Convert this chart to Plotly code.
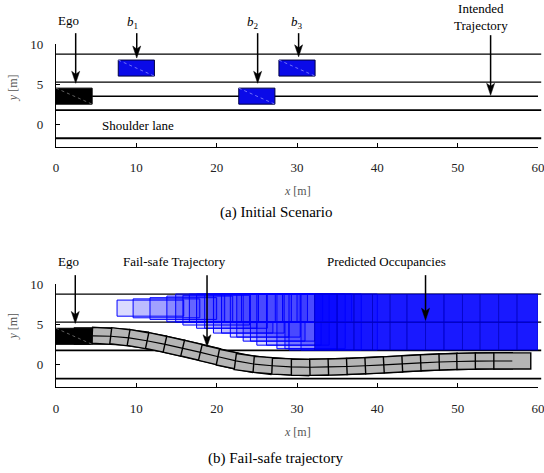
import numpy as np
import plotly.graph_objects as go

FONT = "Liberation Serif, Times New Roman, serif"

# ---------------- data ----------------
x_ticks = [0, 10, 20, 30, 40, 50, 60]
y_ticks = [0, 5, 10]
lane_lines_y = [8.75, 5.25, 1.75, -1.75]
lane_end_x = 60.4

# vehicles in the initial scenario (rear x, centre y)
veh_names = ["Ego", "b1", "b2", "b3"]
veh_x_rear = [0.0, 7.75, 22.75, 27.75]
veh_y_center = [3.5, 7.0, 3.5, 7.0]
veh_length = 4.5
veh_width = 2.0

intended_x = [4.5, 60.0]
intended_y = [3.5, 3.5]

# labels / arrows, panel (a)  (label y in paper units)
top_labels = ["Ego", "<i>b</i><sub>1</sub>", "<i>b</i><sub>2</sub>", "<i>b</i><sub>3</sub>",
              "Intended<br>Trajectory"]
top_label_x = [1.55, 9.5, 24.5, 30.0, 52.9]
top_label_y = [1.068, 1.064, 1.064, 1.064, 1.079]
top_arrow_x = [2.45, 10.05, 25.1, 30.2, 54.1]
top_arrow_tail = [11.35, 11.35, 11.35, 11.35, 11.1]
top_arrow_tip = [5.1, 8.25, 5.1, 8.4, 3.6]

# labels / arrows, panel (b)
bot_labels = ["Ego", "Fail-safe Trajectory", "Predicted Occupancies"]
bot_label_x = [1.55, 14.8, 41.1]
bot_label_y = [0.365, 0.365, 0.365]
bot_arrow_x = [2.4, 18.8, 46.0]
bot_arrow_tail = [11.1, 11.1, 11.1]
bot_arrow_tip = [5.1, 2.2, 5.5]

# fail-safe trajectory: occupancy centres
traj_x = [2.3, 4.6, 6.8, 9.1, 11.3, 13.6, 15.8, 18.0, 20.2, 22.4, 24.6, 26.9, 29.2,
          31.6, 33.9, 36.2, 38.5, 40.8, 43.1, 45.4, 47.7, 50.0, 52.2, 54.5, 56.8]
traj_y = [3.5, 3.55, 3.5, 3.3, 2.95, 2.5, 2.0, 1.5, 0.95, 0.45, 0.05, -0.15, -0.3,
          -0.35, -0.3, -0.25, -0.15, -0.05, 0.08, 0.2, 0.3, 0.37, 0.42, 0.44, 0.44]

# predicted occupancies of b1 (growing sets, whole reachable width)
occ_x0 = [7.6, 9.6, 11.7, 13.8, 15.8, 17.5, 19.6, 21.7, 23.3, 25.0, 27.5, 29.0, 30.5]
occ_x1 = [15.9, 17.9, 20.0, 22.0, 24.1, 26.3, 28.4, 30.4, 32.2, 34.0, 36.0, 38.0, 40.0]
occ_y0 = [6.0, 5.8, 5.6, 5.3, 4.9, 4.5, 3.9, 3.4, 2.9, 2.4, 1.96, 1.8, 1.8]
occ_y1 = [8.0, 8.15, 8.3, 8.5, 8.6, 8.75, 8.75, 8.75, 8.75, 8.75, 8.75, 8.75, 8.75]

# occupancies restricted to the left lane
left_x0 = [14.9, 16.6, 18.5, 20.6, 22.5, 24.2, 26.2, 28.2, 30.0]
left_x1 = [21.0, 23.1, 25.2, 27.3, 29.3, 31.3, 33.2, 35.0, 36.8]
left_y = (5.25, 8.75)

# occupancies restricted to the ego lane
right_x0 = [18.5, 20.6, 22.5, 24.2, 26.2, 28.5]
right_x1 = [25.0, 27.0, 29.0, 31.0, 33.0, 35.0]
right_y0 = [4.5, 3.9, 3.4, 2.9, 2.4, 1.96]
right_y1 = 5.25

# predicted occupancies further ahead (both lanes)
far_x_edges = [32.2, 35.0, 37.1, 39.4, 41.6, 43.7, 46.0, 48.3, 50.6, 52.8, 55.1, 57.4, 60.0]
far_rows = [(1.8, 5.25), (5.25, 8.75)]

# ---------------- figure ----------------
Y_RANGE = [-2.8, 10]
X_RANGE = [0, 60]
DOM_TOP = [0.7006, 1.0]
DOM_BOT = [0.0, 0.3003]


def to_paper(y, dom):
    return dom[0] + (y - Y_RANGE[0]) / (Y_RANGE[1] - Y_RANGE[0]) * (dom[1] - dom[0])


fig = go.Figure()
fig.add_trace(go.Scatter(x=X_RANGE, y=[0, 0], mode="markers", marker=dict(opacity=0),
                         showlegend=False, hoverinfo="skip", xaxis="x", yaxis="y"))
fig.add_trace(go.Scatter(x=X_RANGE, y=[0, 0], mode="markers", marker=dict(opacity=0),
                         showlegend=False, hoverinfo="skip", xaxis="x2", yaxis="y2"))

shapes = []
lane_w = {8.75: 1.2, 5.25: 1.2, 1.75: 1.8, -1.75: 1.8}
for yr in ("y", "y2"):
    for ly in lane_lines_y:
        shapes.append(dict(type="line", xref="paper", yref=yr, x0=0,
                           x1=lane_end_x / X_RANGE[1], y0=ly, y1=ly,
                           line=dict(color="black", width=lane_w[ly])))

# ---- panel (a)
shapes.append(dict(type="line", xref="x", yref="y", x0=intended_x[0], x1=intended_x[1],
                   y0=intended_y[0], y1=intended_y[1], line=dict(color="black", width=1.5)))
for name, xr0, yc in zip(veh_names, veh_x_rear, veh_y_center):
    ego = name == "Ego"
    x0, x1 = xr0, xr0 + veh_length
    y0, y1 = yc - veh_width / 2, yc + veh_width / 2
    shapes.append(dict(type="rect", xref="x", yref="y", x0=x0, x1=x1, y0=y0, y1=y1,
                       fillcolor="black" if ego else "#0a0ae8",
                       line=dict(color="black" if ego else "#000040", width=1)))
    shapes.append(dict(type="line", xref="x", yref="y", x0=x0, x1=x1, y0=y1, y1=y0,
                       line=dict(color="#777777" if ego else "#8c8cff", width=0.8, dash="dot")))

# ---- panel (b): predicted occupancies
OCC_FILL = "rgba(0,0,255,0.14)"
for a, b, c, d in zip(occ_x0, occ_x1, occ_y0, occ_y1):
    shapes.append(dict(type="rect", xref="x2", yref="y2", x0=a, x1=b, y0=c, y1=d,
                       fillcolor=OCC_FILL, line=dict(color="#0000ff", width=1)))
for a, b in zip(left_x0, left_x1):
    shapes.append(dict(type="rect", xref="x2", yref="y2", x0=a, x1=b, y0=left_y[0], y1=left_y[1],
                       fillcolor=OCC_FILL, line=dict(color="#0000ff", width=1)))
for a, b, c in zip(right_x0, right_x1, right_y0):
    shapes.append(dict(type="rect", xref="x2", yref="y2", x0=a, x1=b, y0=c, y1=right_y1,
                       fillcolor=OCC_FILL, line=dict(color="#0000ff", width=1)))
for i in range(len(far_x_edges) - 1):
    for r0, r1 in far_rows:
        shapes.append(dict(type="rect", xref="x2", yref="y2", x0=far_x_edges[i],
                           x1=far_x_edges[i + 1], y0=r0, y1=r1,
                           fillcolor="rgba(0,0,255,0.9)",
                           line=dict(color="rgba(0,0,190,0.7)", width=1)))

# ---- panel (b): fail-safe trajectory occupancies
tx = np.array(traj_x)
ty = np.array(traj_y)
head = np.arctan2(np.gradient(ty), np.gradient(tx))
half_l, half_w = 2.3, 1.0
for k in range(1, len(tx)):
    c, s = np.cos(head[k]), np.sin(head[k])
    pts = []
    for dl, dw in ((-half_l, -half_w), (half_l, -half_w), (half_l, half_w), (-half_l, half_w)):
        pts.append((tx[k] + dl * c - dw * s, ty[k] + dl * s + dw * c))
    path = "M " + " L ".join(f"{px:.3f},{py:.3f}" for px, py in pts) + " Z"
    shapes.append(dict(type="path", xref="x2", yref="y2", path=path,
                       fillcolor="#b5b5b5", line=dict(color="black", width=1.4)))
cl = "M " + " L ".join(f"{a:.3f},{b:.3f}" for a, b in zip(tx[1:], ty[1:]))
shapes.append(dict(type="path", xref="x2", yref="y2", path=cl,
                   line=dict(color="black", width=1.1)))
shapes.append(dict(type="rect", xref="x2", yref="y2", x0=veh_x_rear[0],
                   x1=veh_x_rear[0] + veh_length, y0=veh_y_center[0] - 1, y1=veh_y_center[0] + 1,
                   fillcolor="black", line=dict(color="black", width=1)))
shapes.append(dict(type="line", xref="x2", yref="y2", x0=veh_x_rear[0],
                   x1=veh_x_rear[0] + veh_length, y0=veh_y_center[0] + 1, y1=veh_y_center[0] - 1,
                   line=dict(color="#777777", width=0.8, dash="dot")))

# ---- arrows: shaft (paper y so it can leave the plot) + pixel-sized head
HEAD_PATH = "M 0,0 L -4,12 L 0,9 L 4,12 Z"


def add_arrow(xref, yref, dom, x, tail, tip):
    shapes.append(dict(type="line", xref=xref, yref="paper", x0=x, x1=x,
                       y0=to_paper(tail, dom), y1=to_paper(tip + 0.9, dom),
                       line=dict(color="black", width=1.5)))
    shapes.append(dict(type="path", xref=xref, yref=yref, xsizemode="pixel", ysizemode="pixel",
                       xanchor=x, yanchor=tip, path=HEAD_PATH, fillcolor="black",
                       line=dict(color="black", width=0.5)))


for x, a, b in zip(top_arrow_x, top_arrow_tail, top_arrow_tip):
    add_arrow("x", "y", DOM_TOP, x, a, b)
for x, a, b in zip(bot_arrow_x, bot_arrow_tail, bot_arrow_tip):
    add_arrow("x2", "y2", DOM_BOT, x, a, b)

ann = []
tf = dict(family=FONT, size=13, color="black")
for t, x, y in zip(top_labels, top_label_x, top_label_y):
    ann.append(dict(text=t, x=x, y=y, xref="x", yref="paper", showarrow=False, font=tf,
                    xanchor="center", yanchor="middle"))
for t, x, y in zip(bot_labels, bot_label_x, bot_label_y):
    ann.append(dict(text=t, x=x, y=y, xref="x2", yref="paper", showarrow=False, font=tf,
                    xanchor="center", yanchor="middle"))
ann.append(dict(text="Shoulder lane", x=10.2, y=-0.2, xref="x", yref="y", showarrow=False,
                font=tf, xanchor="center", yanchor="middle"))

gf = dict(family=FONT, size=12, color="#555555")
cf = dict(family=FONT, size=15, color="black")
for t, x, y, f, ang in [
    ("<i>x</i> [m]", 0.5, 0.572, gf, 0),
    ("(a) Initial Scenario", 0.456, 0.510, cf, 0),
    ("<i>x</i> [m]", 0.5, -0.131, gf, 0),
    ("(b) Fail-safe trajectory", 0.456, -0.207, cf, 0),
    ("<i>y</i> [m]", -0.09, 0.873, gf, -90),
    ("<i>y</i> [m]", -0.09, 0.178, gf, -90),
]:
    ann.append(dict(text=t, x=x, y=y, xref="paper", yref="paper", showarrow=False, font=f,
                    textangle=ang, xanchor="center", yanchor="middle"))

axis_common = dict(showline=True, linecolor="black", linewidth=1.2, ticks="inside", ticklen=4,
                   tickcolor="black", showgrid=False, zeroline=False, automargin=False,
                   ticklabeloverflow="allow",
                   tickfont=dict(family=FONT, size=13, color="#222222"), ticklabelstandoff=9)
fig.update_layout(
    template="none",
    width=544, height=473,
    margin=dict(l=56, r=6, t=44, b=86, autoexpand=False),
    paper_bgcolor="white", plot_bgcolor="white",
    showlegend=False,
    xaxis=dict(domain=[0, 1], anchor="y", range=X_RANGE, tickvals=x_ticks, **axis_common),
    yaxis=dict(domain=DOM_TOP, anchor="x", range=Y_RANGE, tickvals=y_ticks, **axis_common),
    xaxis2=dict(domain=[0, 1], anchor="y2", range=X_RANGE, tickvals=x_ticks, **axis_common),
    yaxis2=dict(domain=DOM_BOT, anchor="x2", range=Y_RANGE, tickvals=y_ticks, **axis_common),
    shapes=shapes,
    annotations=ann,
)

fig.write_html("out.html", config={"displayModeBar": False},
               post_script="document.body.style.margin='0';")
